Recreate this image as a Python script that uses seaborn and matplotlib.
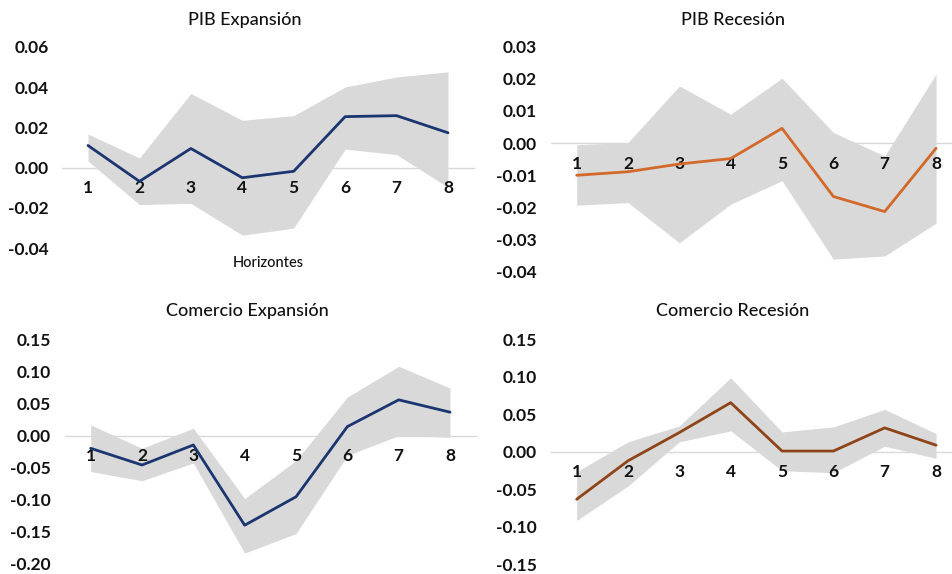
import numpy as np
import pandas as pd
import matplotlib
matplotlib.use("Agg")
import matplotlib.pyplot as plt
import seaborn as sns

sns.set_theme(style="white")
plt.rcParams['font.family'] = ['Lato', 'DejaVu Sans']

horizons = [1, 2, 3, 4, 5, 6, 7, 8]

pib_exp = [0.011, -0.0068, 0.0095, -0.005, -0.0018, 0.0253, 0.0258, 0.0173]
pib_exp_hi = [0.0167, 0.0048, 0.0368, 0.0235, 0.0258, 0.040, 0.045, 0.0475]
pib_exp_lo = [0.0033, -0.0183, -0.0177, -0.0335, -0.030, 0.0092, 0.0065, -0.0097]

pib_rec = [-0.0100, -0.0089, -0.0065, -0.0048, 0.0046, -0.0166, -0.0213, -0.0016]
pib_rec_hi = [-0.0005, 0.0002, 0.0178, 0.009, 0.0202, 0.0033, -0.004, 0.0215]
pib_rec_lo = [-0.0193, -0.0185, -0.031, -0.019, -0.0117, -0.0361, -0.0351, -0.0249]

com_exp = [-0.0198, -0.0458, -0.0146, -0.1396, -0.0953, 0.014, 0.0557, 0.0365]
com_exp_hi = [0.0167, -0.0198, 0.0115, -0.098, -0.039, 0.060, 0.108, 0.074]
com_exp_lo = [-0.056, -0.0703, -0.0427, -0.183, -0.1526, -0.031, 0.0, -0.0026]

com_rec = [-0.0633, -0.012, 0.0257, 0.0655, 0.001, 0.001, 0.0319, 0.0088]
com_rec_hi = [-0.0265, 0.0133, 0.0345, 0.0987, 0.0265, 0.0332, 0.0566, 0.0243]
com_rec_lo = [-0.0916, -0.0456, 0.0133, 0.0279, -0.0252, -0.0279, 0.0075, -0.0088]

titles = ["PIB Expansión", "PIB Recesión", "Comercio Expansión", "Comercio Recesión"]
y_ticks = [
    [0.06, 0.04, 0.02, 0.00, -0.02, -0.04],
    [0.03, 0.02, 0.01, 0.00, -0.01, -0.02, -0.03, -0.04],
    [0.15, 0.10, 0.05, 0.00, -0.05, -0.10, -0.15, -0.20],
    [0.15, 0.10, 0.05, 0.00, -0.05, -0.10, -0.15],
]

W, H = 953, 574
fig = plt.figure(figsize=(W / 100, H / 100), dpi=100)


def px_axes(left, right, top, bottom):
    return fig.add_axes([left / W, 1 - bottom / H, (right - left) / W, (bottom - top) / H])


panels = [
    dict(mid=pib_exp, hi=pib_exp_hi, lo=pib_exp_lo, color="#1B3570",
         box=(62.3, 473.7, 46.7, 248.3), xlim=(0.5, 8.5), title_xy=(245, 20)),
    dict(mid=pib_rec, hi=pib_rec_hi, lo=pib_rec_lo, color="#D2692A",
         box=(551, 953, 46.7, 271.7), xlim=(0.5, 8.33), title_xy=(733, 20)),
    dict(mid=com_exp, hi=com_exp_hi, lo=com_exp_lo, color="#1B3570",
         box=(65, 475.7, 339.3, 564), xlim=(0.5, 8.5), title_xy=(247, 311)),
    dict(mid=com_rec, hi=com_rec_hi, lo=com_rec_lo, color="#8E4418",
         box=(551, 953, 339.3, 564.3), xlim=(0.5, 8.33), title_xy=(733, 311)),
]

for i, p in enumerate(panels):
    ax = px_axes(*p["box"])
    ticks = y_ticks[i]
    ax.set_axisbelow(False)
    ax.fill_between(horizons, p["lo"], p["hi"], color="#D9D9D9", linewidth=0, zorder=1)
    df = pd.DataFrame({"h": horizons, "v": p["mid"]})
    sns.lineplot(data=df, x="h", y="v", ax=ax, color=p["color"], linewidth=2.0, zorder=3)
    ax.set_xlim(*p["xlim"])
    ax.set_ylim(min(ticks), max(ticks))
    ax.set_yticks(ticks)
    ax.set_yticklabels([f"{t:.2f}" for t in ticks])
    ax.set_xticks(horizons)
    ax.set_xticklabels([str(h) for h in horizons])
    for s in ["top", "right", "left"]:
        ax.spines[s].set_visible(False)
    ax.spines["bottom"].set_position(("data", 0))
    ax.spines["bottom"].set_color("#D9D9D9")
    ax.spines["bottom"].set_linewidth(1.0)
    ax.spines["bottom"].set_zorder(2)
    ax.xaxis.set_zorder(2.5)
    ax.yaxis.set_zorder(2.5)
    ax.tick_params(axis="both", length=0, labelsize=12.5, labelcolor="#111111")
    ax.tick_params(axis="x", pad=9)
    ax.tick_params(axis="y", pad=10)
    for lab in ax.get_xticklabels() + ax.get_yticklabels():
        lab.set_fontweight("bold")
    ax.set_xlabel("")
    ax.set_ylabel("")
    ax.grid(False)
    ax.set_facecolor("none")
    tx, ty = p["title_xy"]
    fig.text(tx / W, 1 - ty / H, titles[i], ha="center", va="center",
             fontsize=13, fontweight="medium", color="#111111")

fig.text(268 / W, 1 - 263 / H, "Horizontes", ha="center", va="center",
         fontsize=10.5, fontweight="medium", color="#111111")

fig.savefig("out.png", dpi=100, facecolor="white")
